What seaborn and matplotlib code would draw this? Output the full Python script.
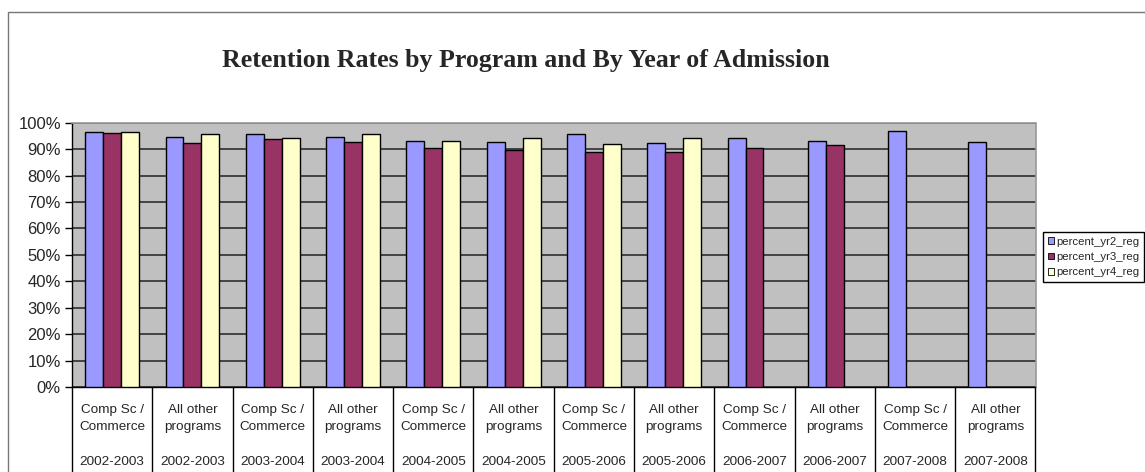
import numpy as np
import pandas as pd
import seaborn as sns
import matplotlib
matplotlib.use("Agg")
import matplotlib.pyplot as plt
from matplotlib.patches import Rectangle
from matplotlib.lines import Line2D

programs = ["Comp Sc /\nCommerce", "All other\nprograms"] * 6
years = ["2002-2003", "2002-2003", "2003-2004", "2003-2004", "2004-2005", "2004-2005",
         "2005-2006", "2005-2006", "2006-2007", "2006-2007", "2007-2008", "2007-2008"]
series_names = ["percent_yr2_reg", "percent_yr3_reg", "percent_yr4_reg"]
yr2 = [96.3, 94.6, 95.8, 94.6, 93.0, 92.7, 95.8, 92.2, 94.4, 93.2, 96.7, 92.7]
yr3 = [96.0, 92.3, 93.7, 92.8, 90.4, 89.6, 89.1, 89.1, 90.4, 91.4, np.nan, np.nan]
yr4 = [96.3, 95.8, 94.1, 95.8, 93.0, 94.4, 91.8, 94.4, np.nan, np.nan, np.nan, np.nan]
colors = ["#9999FF", "#993366", "#FFFFCC"]

cats = [f"{p}\n\n{y}" for p, y in zip(programs, years)]
rows = []
for name, vals in zip(series_names, [yr2, yr3, yr4]):
    for c, v in zip(cats, vals):
        rows.append({"cat": c, "series": name, "value": v})
df = pd.DataFrame(rows)

sns.set_style("white")
plt.rcParams["font.family"] = ["Liberation Sans", "DejaVu Sans"]

fig = plt.figure(figsize=(11.45, 4.72), dpi=100)
ax = fig.add_axes([72 / 1145, 1 - 387 / 472, (1035.5 - 72) / 1145, (387 - 122.7) / 472])
ax.set_facecolor("#C0C0C0")

sns.barplot(data=df, x="cat", y="value", hue="series", order=cats, hue_order=series_names,
            palette=colors, width=0.67, edgecolor="black", linewidth=1.0,
            saturation=1, ax=ax, legend=False, zorder=3)

ax.set_ylim(0, 100)
ax.set_xlim(-0.5, len(cats) - 0.5)
ax.set_yticks(np.arange(0, 101, 10))
ax.set_yticklabels([f"{v}%" for v in range(0, 101, 10)], fontsize=12)
ax.yaxis.grid(True, color="#222222", linewidth=1.1, zorder=1)
ax.set_axisbelow(True)
ax.tick_params(axis="y", length=5, width=1, color="black", direction="out", pad=3, left=True)
ax.set_xticks(range(len(cats)))
ax.set_xticklabels(cats, fontsize=9.7, linespacing=1.6)
ax.tick_params(axis="x", length=0, pad=12)
ax.set_xlabel("")
ax.set_ylabel("")

for s in ["top", "right"]:
    ax.spines[s].set_color("#999999")
    ax.spines[s].set_linewidth(1.2)
for s in ["left", "bottom"]:
    ax.spines[s].set_color("black")
    ax.spines[s].set_linewidth(1.0)

# separators under the category axis
for b in np.arange(-0.5, len(cats), 1.0):
    ax.add_line(Line2D([b, b], [0, -0.5], transform=ax.get_xaxis_transform(),
                       color="black", linewidth=1.0, clip_on=False))

# outer frame
fig.patches.append(Rectangle((8 / 1145, -0.05), 1.2, 1 - 12 / 472 + 0.05,
                             transform=fig.transFigure, fill=False,
                             edgecolor="#777777", linewidth=1.0))

fig.text(526 / 1145, 1 - 61 / 472, "Retention Rates by Program and By Year of Admission",
         ha="center", va="center", fontsize=18.6, fontweight="bold",
         family=["Liberation Serif", "DejaVu Serif"])

handles = [Rectangle((0, 0), 1, 1, facecolor=c, edgecolor="black", linewidth=0.6) for c in colors]
fig.legend(handles, series_names, loc="upper left",
           bbox_to_anchor=(1043 / 1145, 1 - 232 / 472), fontsize=8.2,
           frameon=True, fancybox=False, edgecolor="black", framealpha=1,
           handlelength=0.55, handleheight=0.55, handletextpad=0.2,
           borderpad=0.4, labelspacing=0.48, borderaxespad=0)

fig.savefig("out.png", dpi=100)
